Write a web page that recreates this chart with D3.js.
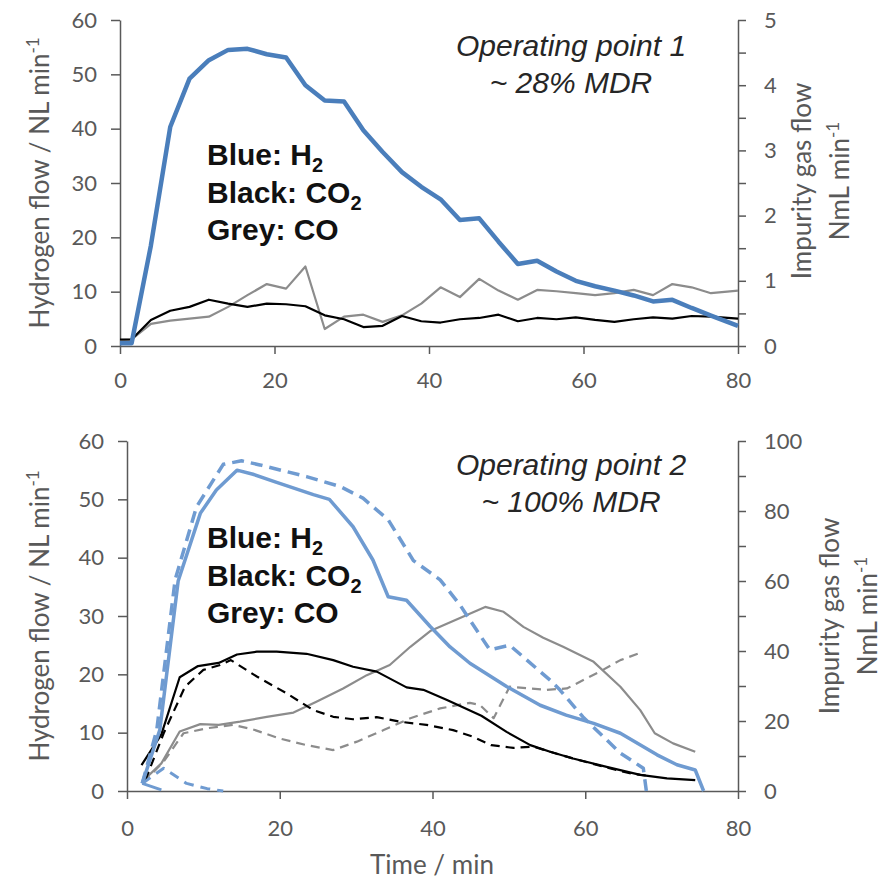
<!doctype html>
<html>
<head>
<meta charset="utf-8">
<title>Hydrogen and impurity gas flow</title>
<script src="https://cdn.jsdelivr.net/npm/d3@7"></script>
<style>
  body { margin:0; background:#ffffff; }
  .tick text { font-family: Lato, "Open Sans", sans-serif; font-size:22px; fill:#595959; }
  .domain, .tick line { stroke:#595959; stroke-width:1.5px; }
  .title { font-family: Lato, "Open Sans", sans-serif; font-size:26px; fill:#595959; }
  .note { font-family: "Liberation Sans", Arial, sans-serif; font-size:30px; font-style:italic; fill:#262626; }
  .key { font-family: "Liberation Sans", Arial, sans-serif; font-size:30px; font-weight:bold; fill:#111111; }
</style>
</head>
<body>
<script>
var w = 892, h = 882;

// ---- operating point 1 (top) ----
var timeTop = [0, 1.5, 4, 6.5, 9, 11.5, 14, 16.5, 19, 21.5, 24, 26.5, 29, 31.5, 34, 36.5, 39,
               41.5, 44, 46.5, 49, 51.5, 54, 56.5, 59, 61.5, 64, 66.5, 69, 71.5, 74, 76.5, 80];
var h2Top  = [0.5, 0.5, 18.5, 40.3, 49.2, 52.6, 54.5, 54.7, 53.7, 53.1, 48.0, 45.2, 45.0, 39.7, 35.7, 32.0, 29.3,
              27.0, 23.2, 23.5, 19.2, 15.1, 15.7, 13.7, 12.0, 11.0, 10.2, 9.3, 8.2, 8.5, 7.0, 5.6, 3.7];
var co2Top = [0.10, 0.10, 0.40, 0.54, 0.60, 0.71, 0.65, 0.60, 0.65, 0.64, 0.61, 0.47, 0.41, 0.29, 0.31, 0.46, 0.38,
              0.36, 0.41, 0.43, 0.48, 0.38, 0.43, 0.41, 0.44, 0.40, 0.37, 0.41, 0.44, 0.42, 0.46, 0.45, 0.42];
var coTop  = [0.09, 0.10, 0.34, 0.39, 0.42, 0.45, 0.60, 0.78, 0.95, 0.88, 1.22, 0.26, 0.45, 0.48, 0.37, 0.47, 0.65,
              0.90, 0.75, 1.03, 0.85, 0.71, 0.86, 0.84, 0.81, 0.78, 0.81, 0.86, 0.78, 0.95, 0.90, 0.81, 0.85];

// ---- operating point 2 (bottom), [time, value] ----
var h2Solid = [[2,1.3],[4.3,10.5],[6.7,36],[9.6,47.6],[11.7,51.6],[14.4,55.0],[16.5,54.3],[19.4,53.0],[24.4,50.8],
               [26.5,50.0],[29.6,45.3],[32.2,39.6],[34.2,33.3],[36.6,32.7],[39.7,28.2],[42.3,24.7],[44.9,21.9],
               [49.7,17.9],[54.1,14.7],[57.5,13.0],[61.1,11.6],[64.6,9.9],[69.4,6.2],[72.0,4.5],[74.4,3.6],[75.5,0]];
var h2Dash  = [[2,1.3],[3.9,10.5],[6.3,36.2],[9.1,48.7],[12.6,56.0],[15.0,56.6],[17.4,55.9],[23.5,53.9],[27.9,52.2],
               [30.9,50.2],[34.2,46.5],[37.5,39.5],[41.0,36.2],[43.6,31.9],[44.9,29.3],[47.5,24.2],[50.1,25.0],
               [55.4,19.0],[56.7,17.3],[59.7,12.7],[61.9,9.9],[64.6,6.5],[67.6,3.9],[68.0,0]];
var h2SolidLow = [[2,1.3],[4.5,0.2]];
var h2DashLow  = [[2,1.3],[4.8,3.9],[7.8,1.3],[10.5,0.4],[12.6,0]];
var co2Solid = [[1.9,7.4],[4.5,16.2],[6.9,32.5],[9.3,35.7],[12,36.6],[14.4,39.0],[17,39.8],[19.6,39.8],[23.5,39.2],
                [27,37.4],[29.6,35.5],[32.7,34.1],[36.6,29.6],[38.8,28.9],[41.9,26.0],[46.4,21.5],[49.7,16.9],
                [52.8,13.1],[55.4,11.2],[58.4,9.3],[62.8,6.9],[67.2,4.6],[70.7,3.6],[74.4,3.1]];
var co2Dash  = [[2.4,3.1],[4.8,16.5],[7.6,29.8],[10,34.6],[12.2,36.0],[13.6,37.4],[17,32.7],[20.9,27.9],[24.4,23.1],
                [27,21.2],[29.6,20.5],[32.7,21.1],[35.7,19.8],[39.2,18.9],[42.7,17.4],[45.3,15.5],[47.7,13.1],
                [50.6,12.3],[53.2,12.7],[55.4,11.2],[58.4,9.3],[62.8,6.7],[66,5.0],[68,4.4]];
var coSolid  = [[1.9,2.5],[4.5,7.9],[6.9,17.0],[9.6,19.1],[12,18.9],[14.8,19.8],[18.3,21.2],[21.8,22.4],[24.8,25.5],
                [28.3,29.3],[31.4,33.1],[34.4,36.0],[37.1,41.2],[39.7,45.7],[42.7,48.6],[46.9,52.6],[49.3,51.2],
                [51.9,46.9],[54.5,43.8],[57.1,41.2],[61.1,36.9],[64.6,29.8],[67.2,23.1],[69.1,16.5],[71.5,13.6],[74.4,11.2]];
var coDash   = [[2.1,2.4],[4.8,8.4],[7.4,16.5],[10.4,17.9],[13.9,18.9],[16.5,17.6],[20,15.0],[23.5,13.1],[27,11.7],
                [30.1,14.1],[33.6,17.4],[37.1,20.8],[41,23.6],[44.9,25.2],[46.2,24.6],[48,20.8],[50.1,29.8],
                [54.9,28.9],[57.6,29.3],[61.9,34.1],[64.6,37.4],[67.6,39.8]];

var xTicks = [0, 20, 40, 60, 80];
var leftTicks = [0, 10, 20, 30, 40, 50, 60];

var svg = d3.select("body").append("svg")
    .attr("width", w)
    .attr("height", h);

function drawAxes(p) {
    var g = svg.append("g");
    g.append("g").attr("transform", "translate(0," + p.y0 + ")")
        .call(d3.axisBottom(p.x).tickValues(xTicks).tickSize(8).tickSizeOuter(0).tickPadding(p.xPad));
    g.append("g").attr("transform", "translate(" + p.x(0) + ",0)")
        .call(d3.axisLeft(p.yL).tickValues(leftTicks).tickSize(9).tickSizeOuter(0).tickPadding(14));
    g.append("g").attr("transform", "translate(" + p.x(80) + ",0)")
        .call(d3.axisRight(p.yR).tickValues(p.rTicks).tickSize(8).tickSizeOuter(0).tickPadding(18)
            .tickFormat(function(d){ return (Math.round(d * 1000) % Math.round(p.rStep * 1000) === 0) ? d : ""; }));
    g.selectAll(".domain").attr("stroke", "#595959");
    g.selectAll(".tick line").attr("stroke", "#595959");
}

function drawLine(p, data, scaleY, color, width, dash) {
    var line = d3.line()
        .x(function(d){ return p.x(d[0]); })
        .y(function(d){ return scaleY(d[1]); });
    svg.append("path")
        .datum(data)
        .attr("d", line)
        .attr("fill", "none")
        .attr("stroke", color)
        .attr("stroke-width", width)
        .attr("stroke-linejoin", "round")
        .attr("stroke-dasharray", dash || null);
}

function rotTitle(x, y, parts) {
    var t = svg.append("text").attr("class", "title")
        .attr("text-anchor", "middle")
        .attr("transform", "translate(" + x + "," + y + ") rotate(-90)");
    t.append("tspan").text(parts[0]);
    if (parts[1]) t.append("tspan").attr("font-size", "17px").attr("dy", -10).text(parts[1]);
}

function keyText(x, y) {
    var rows = [["Blue: H", "2"], ["Black: CO", "2"], ["Grey: CO", ""]];
    rows.forEach(function(r, i) {
        var t = svg.append("text").attr("class", "key").attr("x", x).attr("y", y + i * 37.5);
        t.append("tspan").text(r[0]);
        if (r[1]) t.append("tspan").attr("font-size", "20px").attr("dy", 7).text(r[1]);
    });
}

// ---- top panel ----
var panelTop = {
    x: d3.scaleLinear().domain([0, 80]).range([120, 738]),
    yL: d3.scaleLinear().domain([0, 60]).range([346, 20]),
    yR: d3.scaleLinear().domain([0, 5]).range([346, 20]),
    y0: 346, xPad: 18, rTicks: d3.range(0, 5.01, 0.5), rStep: 1
};
drawAxes(panelTop);
var coTopPts  = timeTop.map(function(t, i){ return [t, coTop[i]]; });
var co2TopPts = timeTop.map(function(t, i){ return [t, co2Top[i]]; });
var h2TopPts  = timeTop.map(function(t, i){ return [t, h2Top[i]]; });
drawLine(panelTop, coTopPts, panelTop.yR, "#8c8c8c", 2.2);
drawLine(panelTop, co2TopPts, panelTop.yR, "#000000", 2.2);
drawLine(panelTop, h2TopPts, panelTop.yL, "#4a7ebb", 4.5);

rotTitle(49, 183, ["Hydrogen flow / NL min", "-1"]);
rotTitle(811, 181, ["Impurity gas flow"]);
rotTitle(849, 181, ["NmL min", "-1"]);
svg.append("text").attr("class", "note").attr("x", 571).attr("y", 56).attr("text-anchor", "middle").text("Operating point 1");
svg.append("text").attr("class", "note").attr("x", 571).attr("y", 93).attr("text-anchor", "middle").text("~ 28% MDR");
keyText(207, 165);

// ---- bottom panel ----
var panelBot = {
    x: d3.scaleLinear().domain([0, 80]).range([127, 738]),
    yL: d3.scaleLinear().domain([0, 60]).range([791, 441]),
    yR: d3.scaleLinear().domain([0, 100]).range([791, 441]),
    y0: 791, xPad: 21, rTicks: d3.range(0, 101, 10), rStep: 20
};
drawAxes(panelBot);
drawLine(panelBot, coSolid, panelBot.yR, "#8c8c8c", 2.2);
drawLine(panelBot, coDash, panelBot.yR, "#8c8c8c", 2.2, "9,6");
drawLine(panelBot, co2Solid, panelBot.yR, "#000000", 2.2);
drawLine(panelBot, co2Dash, panelBot.yR, "#000000", 2.2, "9,6");
drawLine(panelBot, h2SolidLow, panelBot.yL, "#6f9bd1", 3);
drawLine(panelBot, h2DashLow, panelBot.yL, "#6f9bd1", 3, "10,7");
drawLine(panelBot, h2Solid, panelBot.yL, "#6f9bd1", 3.5);
drawLine(panelBot, h2Dash, panelBot.yL, "#6f9bd1", 3.5, "12,7");

rotTitle(49, 616, ["Hydrogen flow / NL min", "-1"]);
rotTitle(839, 616, ["Impurity gas flow"]);
rotTitle(877, 616, ["NmL min", "-1"]);
svg.append("text").attr("class", "note").attr("x", 571).attr("y", 475).attr("text-anchor", "middle").text("Operating point 2");
svg.append("text").attr("class", "note").attr("x", 571).attr("y", 512).attr("text-anchor", "middle").text("~ 100% MDR");
keyText(207, 548);

svg.append("text").attr("class", "title").attr("x", 432).attr("y", 874)
    .attr("text-anchor", "middle").text("Time / min");
</script>
</body>
</html>
